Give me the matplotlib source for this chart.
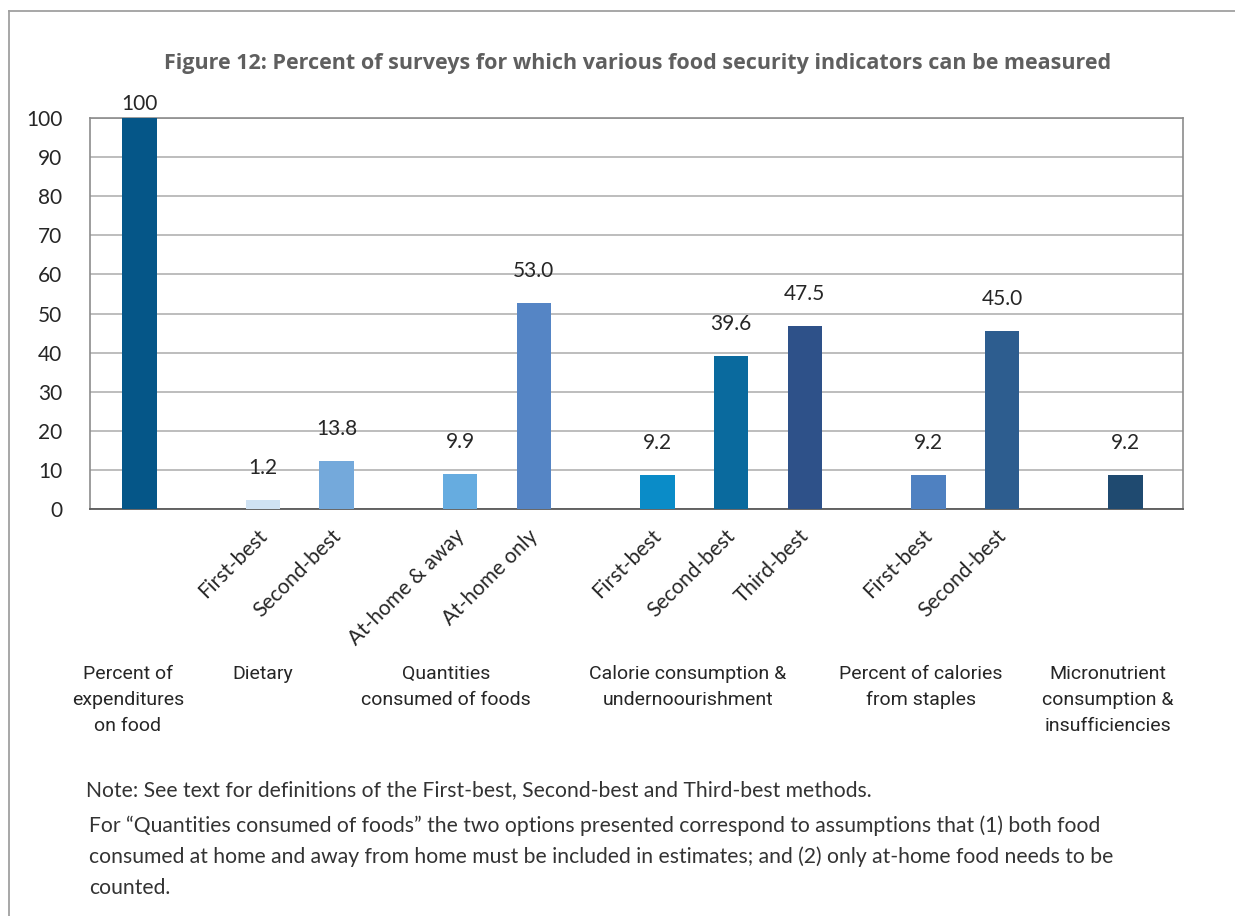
import numpy as np
import matplotlib
matplotlib.use("Agg")
import matplotlib.pyplot as plt
import matplotlib.transforms as mtransforms
from matplotlib.lines import Line2D

# bar heights as drawn, and the printed value labels
values = [100, 2.3, 12.3, 8.9, 52.7, 8.8, 39.2, 46.9, 8.8, 45.6, 8.8]
value_labels = ["100", "1.2", "13.8", "9.9", "53.0", "9.2", "39.6", "47.5", "9.2", "45.0", "9.2"]
tick_labels = ["", "First-best", "Second-best", "At-home & away", "At-home only",
               "First-best", "Second-best", "Third-best", "First-best", "Second-best", ""]
group_sizes = [1, 2, 2, 3, 2, 1]
groups = ["Percent of\nexpenditures\non food", "Dietary", "Quantities\nconsumed of foods",
          "Calorie consumption &\nundernoourishment", "Percent of calories\nfrom staples",
          "Micronutrient\nconsumption &\ninsufficiencies"]
colors = ["#055688", "#CFE2F3", "#74A9DB", "#66ACE0", "#5585C5", "#0A8CC8",
          "#0A6A9E", "#2E5189", "#4F81C1", "#2D5D8F", "#1F4A70"]

title = "Figure 12: Percent of surveys for which various food security indicators can be measured"
note1 = "Note: See text for definitions of the First-best, Second-best and Third-best methods."
note2 = ("For \u201cQuantities consumed of foods\u201d the two options presented correspond to assumptions that (1) both food\n"
         "consumed at home and away from home must be included in estimates; and (2) only at-home food needs to be\n"
         "counted.")

# bar positions: unit step inside a group, wider gap between groups
gap = 1.676
xs = []
pos = 0.0
for gi, n in enumerate(group_sizes):
    if gi > 0:
        pos += gap
    for k in range(n):
        if k > 0:
            pos += 1
        xs.append(pos)
xs = np.array(xs)

W, H = 1235, 916
fig = plt.figure(figsize=(W / 100, H / 100), dpi=100)
ax = fig.add_axes([90 / W, 1 - 509 / H, (1183 - 90) / W, (509 - 118) / H])

ax.bar(xs, values, width=0.468, color=colors, zorder=3)
ax.set_xlim(-0.672, 14.16)
ax.set_ylim(0, 100)
ax.set_yticks(np.arange(0, 101, 10))
ax.grid(axis="y", color="#BDBDBD", lw=1.4, zorder=0)
for s in ["left", "right", "top"]:
    ax.spines[s].set_color("#8C8C8C")
    ax.spines[s].set_linewidth(1.2)
ax.spines["bottom"].set_color("#595959")
ax.spines["bottom"].set_linewidth(1.3)

ax.tick_params(axis="y", length=0, pad=20, labelsize=15, labelcolor="#262626")
for t in ax.get_yticklabels():
    t.set_family("Lato")

ax.set_xticks(xs)
ax.set_xticklabels(tick_labels, rotation=45, ha="right", rotation_mode="anchor",
                   family="Lato", fontsize=15, color="#262626")
ax.tick_params(axis="x", length=0, pad=12)
shift = mtransforms.ScaledTranslation(-6 / 100, 0, fig.dpi_scale_trans)
for t in ax.get_xticklabels():
    t.set_transform(t.get_transform() + shift)

for x, v, lab in zip(xs, values, value_labels):
    off = 10 if v >= 100 else 23
    ax.annotate(lab, (x, v), xytext=(0, off), textcoords="offset points",
                ha="center", va="center", fontsize=15, family="Lato", color="#262626",
                annotation_clip=False)

group_px = [128, 263, 446, 688, 921, 1108]
for gx, g in zip(group_px, groups):
    fig.text(gx / W, 1 - 665 / H, g, ha="center", va="top", fontsize=14,
             family="Roboto", color="#262626", linespacing=1.58)

fig.text(638 / W, 1 - 64 / H, title, ha="center", va="center", fontsize=15.5,
         family="Open Sans", fontweight="bold", color="#5F5F5F")
fig.text(86 / W, 1 - 790 / H, note1, ha="left", va="center", fontsize=15.2,
         family="Lato", color="#333333")
fig.text(89 / W, 1 - 815 / H, note2, ha="left", va="top", fontsize=15.2,
         family="Lato", color="#333333", linespacing=1.68)

# outer frame (top and left edges only are visible)
fig.add_artist(Line2D([9 / W, 1], [1 - 11 / H, 1 - 11 / H], transform=fig.transFigure, color="#A0A0A0", lw=1.3))
fig.add_artist(Line2D([9 / W, 9 / W], [0, 1 - 11 / H], transform=fig.transFigure, color="#A0A0A0", lw=1.3))

fig.savefig("out.png", dpi=100)
